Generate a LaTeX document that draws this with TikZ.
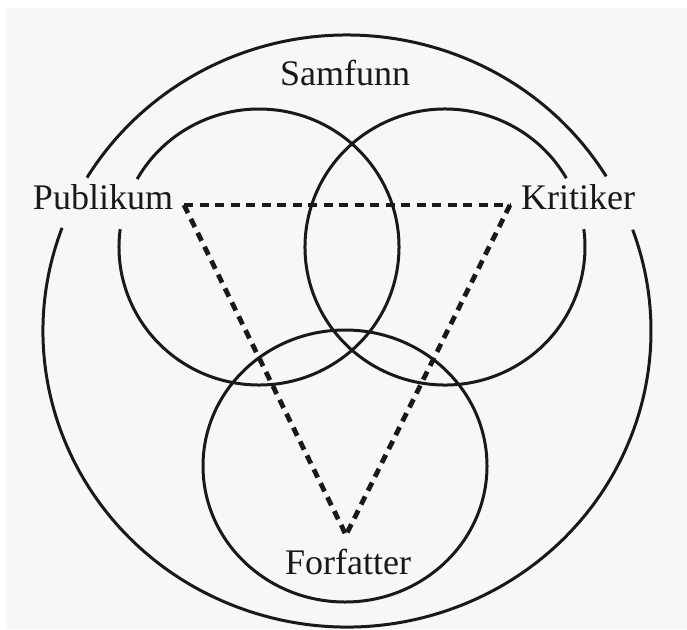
\documentclass[tikz,border=0pt]{standalone}
\usepackage{fontspec}
\setmainfont{Liberation Serif}
\begin{document}
\begin{tikzpicture}[x=1pt,y=1pt,
  ring/.style={line width=3pt,black!90},
  link/.style={line width=4.8pt,black!90,dash pattern=on 9pt off 6.5pt},
  lab/.style={font=\fontsize{36}{40}\selectfont,anchor=base,inner sep=0pt,text=black!90}]
\fill[white] (0,0) rectangle (687,-629);
\fill[black!3] (6,-8) rectangle (687,-629);
\useasboundingbox (0,0) rectangle (687,-629);
% centres
\coordinate (co) at (347,-331);
\coordinate (cl) at (259,-247);
\coordinate (cr) at (445,-247);
\coordinate (cb) at (345,-466);
% outer ring with gaps at labels
\draw[ring] (co) ++(31.5:304 and 296) arc[start angle=31.5,end angle=148.8,x radius=304,y radius=296];
\draw[ring] (co) ++(159.6:304 and 296) arc[start angle=159.6,end angle=380,x radius=304,y radius=296];
% left and right rings
\draw[ring] (cl) ++(172.6:140 and 138) arc[start angle=172.6,end angle=510.5,x radius=140,y radius=138];
\draw[ring] (cr) ++(29.9:140 and 138) arc[start angle=29.9,end angle=367.4,x radius=140,y radius=138];
% bottom ring
\draw[ring] (cb) ellipse[x radius=142,y radius=136];
% labels
\node[lab] (sam) at (345,-85) {Samfunn};
\node[lab] (pub) at (103,-209) {Publikum};
\node[lab] (kri) at (578,-209) {Kritiker};
\node[lab] (for) at (348,-574) {Forfatter};
% triangle vertices
\coordinate (pp) at (184,-205);
\coordinate (kp) at (510,-205);
\coordinate (fp) at (346,-535);
\draw[link] (pp) -- (kp);
\draw[link] (pp) -- (fp);
\draw[link] (kp) -- (fp);
\end{tikzpicture}
\end{document}
